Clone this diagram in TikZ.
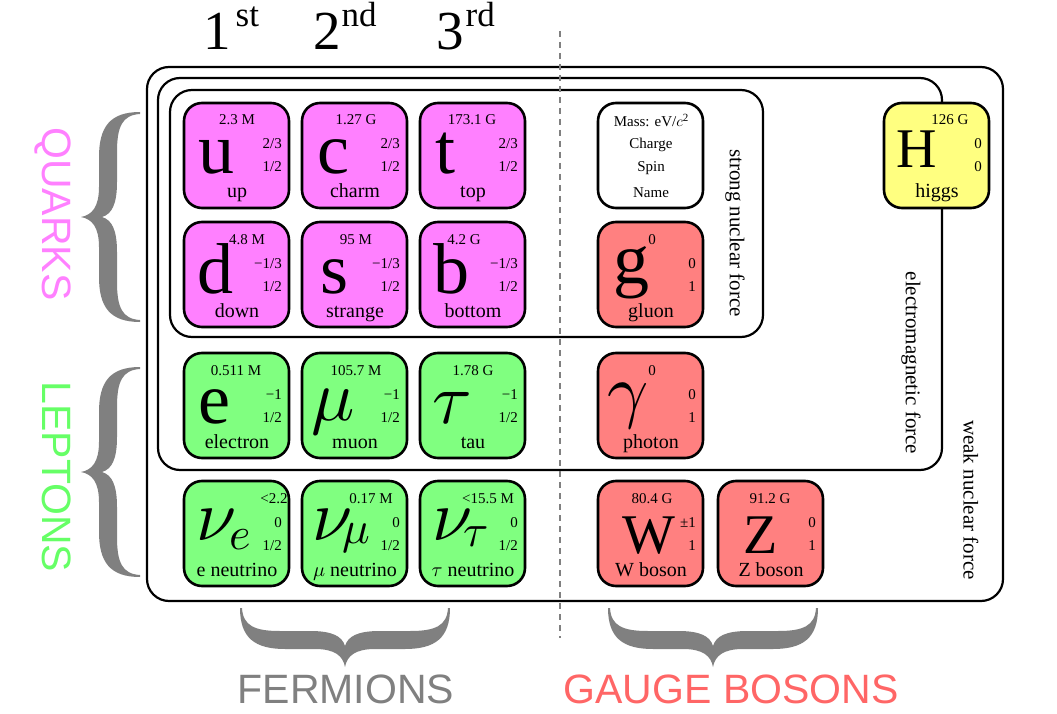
\documentclass[tikz,border=0pt]{standalone}
\usepackage{fontspec}
\setmainfont{Liberation Serif}
\newfontfamily\sansf{Liberation Sans}
\DeclareFontShape{OML}{cmm}{m}{it}{<->cmmi10}{}
\definecolor{qpink}{RGB}{255,128,255}
\definecolor{lgreen}{RGB}{128,255,128}
\definecolor{bred}{RGB}{255,128,128}
\definecolor{hyellow}{RGB}{255,255,128}
\definecolor{qtext}{RGB}{255,128,255}
\definecolor{ltext}{RGB}{102,255,102}
\definecolor{gtext}{RGB}{255,102,102}
\definecolor{bgray}{RGB}{128,128,128}
\newcommand{\fs}[1]{\fontsize{#1}{#1}\selectfont}
% #1 id, #2 left, #3 top, #4 fill, #5 mass, #6 mass x offset, #7 charge, #8 spin, #9 name
\newcommand{\tile}[9]{%
  \node[tilebox, fill=#4] (#1) at ({#2+53.5},{#3+53.5}) {};
  \node[masstxt] (#1-m) at ({#2+#6},{#3+23}) {#5};
  \node[chtxt] (#1-q) at ({#2+99},{#3+47}) {#7};
  \node[chtxt] (#1-s) at ({#2+99},{#3+70}) {#8};
  \node[nametxt] (#1-n) at ({#2+54},{#3+96}) {#9};
}
\newcommand{\bracefill}{%
  \fill[bgray] (0,0) .. controls (0,30) and (15,41) .. (45,41) -- (75,41)
    .. controls (95,41) and (103,48) .. (105,59)
    .. controls (107,48) and (115,41) .. (135,41) -- (165,41)
    .. controls (195,41) and (210,30) .. (210,0) -- (208,0)
    .. controls (207,18) and (195,23) .. (170,23) -- (140,23)
    .. controls (118,23) and (108,28) .. (105,38)
    .. controls (102,28) and (92,23) .. (70,23) -- (40,23)
    .. controls (15,23) and (3,18) .. (2,0) -- cycle;}
\begin{document}
\begin{tikzpicture}[x=1pt,y=-1pt,
  tilebox/.style={draw=black, line width=2.6pt, rounded corners=18pt, minimum width=105pt, minimum height=105pt, inner sep=0pt},
  forcebox/.style={draw=black, line width=2.2pt, rounded corners=22pt},
  masstxt/.style={font=\fs{15}, inner sep=0pt, anchor=base},
  chtxt/.style={font=\fs{15}, inner sep=0pt, anchor=base east},
  nametxt/.style={font=\fs{20}, inner sep=0pt, anchor=base},
  legtxt/.style={font=\fs{15}, inner sep=0pt, anchor=base},
  symtxt/.style={font=\fs{72}, inner sep=0pt, anchor=base west},
  capsym/.style={font=\fs{56}, inner sep=0pt, anchor=base west},
  subtxt/.style={font=\fs{46}, inner sep=0pt, anchor=base west},
  forcelbl/.style={font=\fs{21}, rotate=-90, inner sep=0pt},
  grouplbl/.style={font=\sansf\fs{41}, inner sep=0pt, anchor=base},
  genlbl/.style={font=\fs{55}, inner sep=0pt, anchor=base west}]
\fill[white] (0,0) rectangle (1057,714);
\useasboundingbox (0,0) rectangle (1057,714);

% force boxes
\draw[forcebox] (147,67) rectangle (1003,601);
\draw[forcebox] (158,78) rectangle (942,470);
\draw[forcebox] (170,90) rectangle (763,337);

% divider
\coordinate (dtop) at (560,31);
\coordinate (dbot) at (560,638);
\draw[bgray, line width=2.2pt, dash pattern=on 6pt off 5pt] (dtop) -- (dbot);

% quarks
\tile{u}{183}{102}{qpink}{2.3 M}{54}{2/3}{1/2}{up}
\tile{c}{301}{102}{qpink}{1.27 G}{55}{2/3}{1/2}{charm}
\tile{t}{419}{102}{qpink}{173.1 G}{53}{2/3}{1/2}{top}
\tile{d}{183}{221}{qpink}{4.8 M}{64}{−1/3}{1/2}{down}
\tile{s}{301}{221}{qpink}{95 M}{55}{−1/3}{1/2}{strange}
\tile{b}{419}{221}{qpink}{4.2 G}{45}{−1/3}{1/2}{bottom}
\node[symtxt] (u-sym) at (198,174) {u};
\node[symtxt] (c-sym) at (317,174) {c};
\node[symtxt] (t-sym) at (435,174) {t};
\node[symtxt] (d-sym) at (197,293) {d};
\node[symtxt] (s-sym) at (320,293) {s};
\node[symtxt] (b-sym) at (433,293) {b};

% leptons
\tile{e}{183}{352}{lgreen}{0.511 M}{53}{−1}{1/2}{electron}
\tile{mu}{301}{352}{lgreen}{105.7 M}{55}{−1}{1/2}{muon}
\tile{tau}{419}{352}{lgreen}{1.78 G}{54}{−1}{1/2}{tau}
\node[symtxt] (e-sym) at (198,423) {e};
\node[symtxt] (mu-sym) at (311,420) {$\mu$};
\node[symtxt] (tau-sym) at (432,423) {$\tau$};

\tile{ne}{183}{480}{lgreen}{<2.2}{91}{0}{1/2}{e neutrino}
\tile{nm}{301}{480}{lgreen}{0.17 M}{70}{0}{1/2}{$\mu$ neutrino}
\tile{nt}{419}{480}{lgreen}{<15.5 M}{69}{0}{1/2}{$\tau$ neutrino}
\node[symtxt] (ne-sym) at (196,540) {$\nu$};
\node[subtxt] (ne-sub) at (229,549) {$e$};
\node[symtxt] (nm-sym) at (312,540) {$\nu$};
\node[subtxt] (nm-sub) at (342,543) {$\mu$};
\node[symtxt] (nt-sym) at (432,540) {$\nu$};
\node[subtxt] (nt-sub) at (463,546) {$\tau$};

% legend
\node[tilebox, fill=white] (legend) at (650.5,155.5) {};
\node[legtxt] (leg-m) at (651,127) {Mass: eV/$c$\raisebox{5pt}{\fs{11}2}};
\node[legtxt] (leg-q) at (651,149) {Charge};
\node[legtxt] (leg-s) at (651,172) {Spin};
\node[legtxt] (leg-n) at (651,197) {Name};

% bosons
\tile{g}{597}{221}{bred}{0}{55}{0}{1}{gluon}
\tile{ga}{597}{352}{bred}{0}{55}{0}{1}{photon}
\tile{w}{597}{480}{bred}{80.4 G}{55}{±1}{1}{W boson}
\tile{z}{717}{480}{bred}{91.2 G}{53}{0}{1}{Z boson}
\node[symtxt] (g-sym) at (613,283) {g};
\node[symtxt] (ga-sym) at (607,414) {$\gamma$};
\node[capsym] (w-sym) at (622,553) {W};
\node[capsym] (z-sym) at (743,553) {Z};

% higgs
\tile{h}{883}{102}{hyellow}{126 G}{67}{0}{0}{higgs}
\node[capsym] (h-sym) at (896,168) {H};

% force labels
\node[forcelbl] (strong) at (735,233) {strong nuclear force};
\node[forcelbl] (em) at (911,363) {electromagnetic force};
\node[forcelbl] (weak) at (971,500) {weak nuclear force};

% generations
\node[genlbl] (gen1) at (203,50) {1\kern5pt\raisebox{23pt}{\fs{35}st}};
\node[genlbl] (gen2) at (313,50) {2\kern1pt\raisebox{23pt}{\fs{35}nd}};
\node[genlbl] (gen3) at (436,50) {3\kern2pt\raisebox{23pt}{\fs{35}rd}};

% braces
\begin{scope}[shift={(140,112)}, rotate=-90]\bracefill\end{scope}
\begin{scope}[shift={(140,367)}, rotate=-90]\bracefill\end{scope}
\begin{scope}[shift={(240,608)}]\bracefill\end{scope}
\begin{scope}[shift={(608,608)}]\bracefill\end{scope}

% group labels
\node[grouplbl, rotate=-90, text=qtext] (quarks) at (42,214) {QUARKS};
\node[grouplbl, rotate=-90, text=ltext] (leptons) at (42,477) {LEPTONS};
\node[grouplbl, text=bgray] (fermions) at (346,703) {FERMIONS};
\node[grouplbl, text=gtext] (gauge) at (731,703) {GAUGE BOSONS};
\end{tikzpicture}
\end{document}
